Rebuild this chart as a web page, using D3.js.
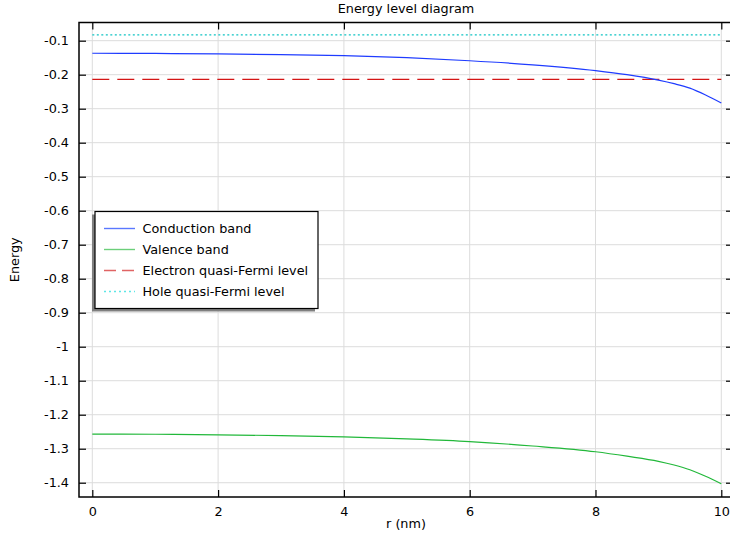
<!DOCTYPE html>
<html>
<head>
<meta charset="utf-8">
<script src="https://cdn.jsdelivr.net/npm/d3@7"></script>
<style>
  body { margin: 0; background: #fff; }
  text { font-family: "DejaVu Sans", sans-serif; font-size: 12.8px; fill: #000; }
</style>
</head>
<body>
<svg id="chart" width="730" height="537"></svg>
<script>
// values
var rVals = [0, 1, 2, 3, 4, 5, 6, 7, 8, 8.5, 9, 9.25, 9.5, 9.75, 10];
var conduction = [-0.137, -0.1375, -0.139, -0.141, -0.144, -0.150, -0.159, -0.171, -0.188, -0.200, -0.216, -0.2265, -0.2395, -0.2595, -0.283];
var valence = [-1.257, -1.2575, -1.259, -1.2615, -1.265, -1.271, -1.279, -1.292, -1.309, -1.322, -1.337, -1.348, -1.362, -1.381, -1.403];
var electronFermi = -0.2135;
var holeFermi = -0.083;
var xTicks = [0, 2, 4, 6, 8, 10];
var yTicks = [-0.1, -0.2, -0.3, -0.4, -0.5, -0.6, -0.7, -0.8, -0.9, -1, -1.1, -1.2, -1.3, -1.4];
var seriesNames = ["Conduction band", "Valence band", "Electron quasi-Fermi level", "Hole quasi-Fermi level"];

var box = {left: 79, top: 22.5, right: 733, bottom: 497};

var svg = d3.select("#chart");

var x = d3.scaleLinear().domain([-0.2115, 10.186]).range([box.left, box.right]);
var y = d3.scaleLinear().domain([-0.0465, -1.442]).range([box.top, box.bottom]);

// grid
svg.append("g").selectAll("line").data(xTicks).enter().append("line")
  .attr("x1", function(d){ return x(d); }).attr("x2", function(d){ return x(d); })
  .attr("y1", box.top).attr("y2", box.bottom)
  .attr("stroke", "#dcdcdc").attr("stroke-width", 1);
svg.append("g").selectAll("line").data(yTicks).enter().append("line")
  .attr("y1", function(d){ return y(d); }).attr("y2", function(d){ return y(d); })
  .attr("x1", box.left).attr("x2", box.right)
  .attr("stroke", "#dcdcdc").attr("stroke-width", 1);

// axes with inward ticks on all four sides
var fmt = function(d){ return String(+d.toFixed(1)); };
var axL = svg.append("g").attr("transform", "translate(" + box.left + ",0)")
  .call(d3.axisLeft(y).tickValues(yTicks).tickFormat(fmt).tickSize(-7).tickPadding(10));
var axB = svg.append("g").attr("transform", "translate(0," + box.bottom + ")")
  .call(d3.axisBottom(x).tickValues(xTicks).tickFormat(d3.format("d")).tickSize(-7).tickPadding(10));
var axT = svg.append("g").attr("transform", "translate(0," + box.top + ")")
  .call(d3.axisTop(x).tickValues(xTicks).tickFormat("").tickSize(-7));
var axR = svg.append("g").attr("transform", "translate(" + box.right + ",0)")
  .call(d3.axisRight(y).tickValues(yTicks).tickFormat("").tickSize(-7));
[axL, axB, axT, axR].forEach(function(a){
  a.select(".domain").remove();
  a.selectAll(".tick line").attr("stroke", "#000").attr("stroke-width", 1.2);
  a.selectAll("text").attr("font-family", "DejaVu Sans").attr("font-size", 12.3);
});

svg.append("rect")
  .attr("x", box.left).attr("y", box.top)
  .attr("width", box.right - box.left).attr("height", box.bottom - box.top)
  .attr("fill", "none").attr("stroke", "#000").attr("stroke-width", 1.5);

// curves
var line = d3.line()
  .x(function(d){ return x(d[0]); })
  .y(function(d){ return y(d[1]); })
  .curve(d3.curveMonotoneX);

var plot = svg.append("g");
plot.append("path").datum(rVals.map(function(r, i){ return [r, holeFermi]; }))
  .attr("d", line).attr("fill", "none").attr("stroke", "#11c4c4").attr("stroke-width", 1.3)
  .attr("stroke-dasharray", "2,2.5");
plot.append("path").datum(rVals.map(function(r, i){ return [r, electronFermi]; }))
  .attr("d", line).attr("fill", "none").attr("stroke", "#d41515").attr("stroke-width", 1.3)
  .attr("stroke-dasharray", "17,8");
plot.append("path").datum(rVals.map(function(r, i){ return [r, conduction[i]]; }))
  .attr("d", line).attr("fill", "none").attr("stroke", "#1f3cff").attr("stroke-width", 1.2);
plot.append("path").datum(rVals.map(function(r, i){ return [r, valence[i]]; }))
  .attr("d", line).attr("fill", "none").attr("stroke", "#22b83a").attr("stroke-width", 1.2);

// titles
svg.append("text").attr("x", (box.left + box.right) / 2).attr("y", 13)
  .attr("text-anchor", "middle").text("Energy level diagram");
svg.append("text").attr("x", (box.left + box.right) / 2).attr("y", 528)
  .attr("text-anchor", "middle").text("r (nm)");
svg.append("text").attr("transform", "translate(19," + ((box.top + box.bottom) / 2) + ") rotate(-90)")
  .attr("text-anchor", "middle").text("Energy");

// legend
var lg = svg.append("g").attr("transform", "translate(95,211.5)");
lg.append("rect").attr("x", -3).attr("y", 3).attr("width", 223).attr("height", 97)
  .attr("fill", "#808080");
lg.append("rect").attr("x", 0).attr("y", 0).attr("width", 223).attr("height", 97)
  .attr("fill", "#fff").attr("stroke", "#000").attr("stroke-width", 1.2);
var legColors = ["#5a78ff", "#6ccf7a", "#e06464", "#5ee6e6"];
var legDash = [null, null, "12,6", "2,3"];
seriesNames.forEach(function(name, i){
  var yy = 17 + i * 21;
  lg.append("line").attr("x1", 9).attr("x2", 40).attr("y1", yy).attr("y2", yy)
    .attr("stroke", legColors[i]).attr("stroke-width", 1.4)
    .attr("stroke-dasharray", legDash[i]);
  lg.append("text").attr("x", 47.5).attr("y", yy + 4.5).text(name);
});
</script>
</body>
</html>
